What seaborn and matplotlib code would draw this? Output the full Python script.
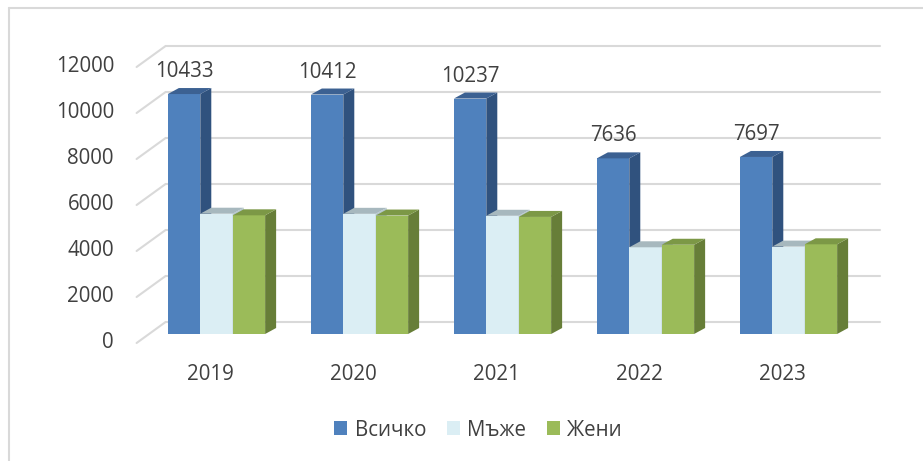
import pandas as pd
import numpy as np
import seaborn as sns
import matplotlib.pyplot as plt
from matplotlib.patches import Polygon, Patch
from matplotlib.lines import Line2D

# data
years = ['2019', '2020', '2021', '2022', '2023']
series = ['Всичко', 'Мъже', 'Жени']
total = [10433, 10412, 10237, 7636, 7697]
men = [5230, 5225, 5140, 3770, 3800]
women = [5160, 5150, 5090, 3880, 3900]
yticks = [0, 2000, 4000, 6000, 8000, 10000, 12000]

front_cols = ['#4F81BD', '#DBEEF4', '#9BBB59']
top_cols = ['#3C6192', '#A7B8BE', '#7C9846']
side_cols = ['#30527E', '#B5C7CD', '#677E38']

df = pd.DataFrame({'year': years * 3,
                   'group': [s for s in series for _ in years],
                   'value': total + men + women})

sns.set_style('white')
plt.rcParams['font.family'] = ['Open Sans', 'DejaVu Sans']
FS = 14.8
TXT = '#404040'

W, H = 923, 461
fig = plt.figure(figsize=(W / 100, H / 100), dpi=100)
# axes = bar plane, pixels: left 145, width 715, zero at y=334, 23 px per 1000
ax = fig.add_axes([145 / W, (H - 334) / H, 715 / W, 276 / H])

sns.barplot(data=df, x='year', y='value', hue='group', palette=front_cols,
            width=0.68, saturation=1, legend=False, ax=ax, zorder=2)
ax.set_xlim(-0.5, 4.5)
ax.set_ylim(0, 12000)
ax.axis('off')

px_x = 1 / 143.0     # data units per pixel (x)
px_y = 1000 / 23.0   # data units per pixel (y)

# walls / gridlines
grid_col = '#D9D9D9'
x_wall = -0.5 + 4 * px_x
fx, fy = -12.4 * px_x, -9 * px_y
bx, by = 16.6 * px_x, 12 * px_y
x_right = -0.5 + (880 - 145) * px_x
for v in yticks:
    ax.plot([x_wall + fx, x_wall + bx], [v + fy, v + by], color=grid_col,
            lw=1.5, clip_on=False, zorder=0)
    ax.plot([x_wall + bx, x_right], [v + by, v + by], color=grid_col,
            lw=1.5, clip_on=False, zorder=0)
    ax.text(-0.5 + (114 - 145) * px_x, v + fy + 1 * px_y, str(v), ha='right',
            va='center', fontsize=FS, color=TXT)

# 3d faces for bars
dx, dy = 11 * px_x, 6 * px_y
for k, cont in enumerate(ax.containers):
    for bar in cont:
        x0 = bar.get_x()
        x1 = x0 + bar.get_width()
        h = bar.get_height()
        bar.set_zorder(2 + 2 * k)
        bar.set_edgecolor('none')
        side = Polygon([(x1, 0), (x1 + dx, dy), (x1 + dx, h + dy), (x1, h)],
                       closed=True, facecolor=side_cols[k], edgecolor='none',
                       zorder=3 + 2 * k)
        top = Polygon([(x0, h), (x0 + dx, h + dy), (x1 + dx, h + dy), (x1, h)],
                      closed=True, facecolor=top_cols[k], edgecolor='none',
                      zorder=3 + 2 * k)
        ax.add_patch(side)
        ax.add_patch(top)

# value labels over the total bars
for bar, val in zip(ax.containers[0], total):
    ax.text(bar.get_x() + bar.get_width() / 2, bar.get_height() + 17 * px_y,
            str(val), ha='center', va='baseline', fontsize=FS,
            color=TXT, zorder=20)

# year labels
for i, yr in enumerate(years):
    ax.text(i - 6.5 * px_x, -40 * px_y, yr, ha='center', va='center',
            fontsize=FS, color=TXT)

# legend
handles = [Patch(facecolor=c, edgecolor='none') for c in front_cols]
fig.legend(handles, series, loc='center', bbox_to_anchor=(478 / W, 1 - 430 / H),
           ncol=3, frameon=False, fontsize=FS, handlelength=0.65,
           handleheight=0.65, handletextpad=0.35, columnspacing=1.0,
           labelcolor=TXT)

# chart border
fig.add_artist(Line2D([9 / W, 1], [1 - 8 / H, 1 - 8 / H], color=grid_col, lw=1.5))
fig.add_artist(Line2D([9 / W, 9 / W], [0, 1 - 8 / H], color=grid_col, lw=1.5))

fig.savefig('out.png', dpi=100)
